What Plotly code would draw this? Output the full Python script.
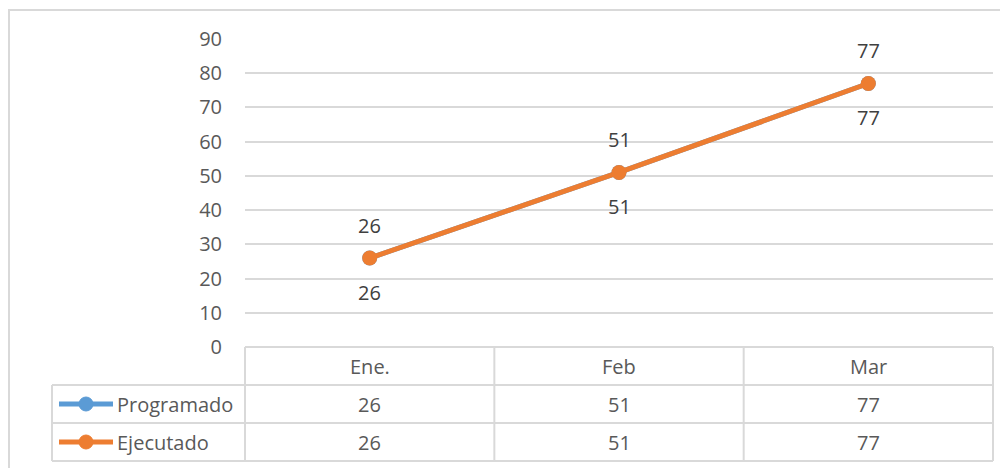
import plotly.graph_objects as go

# datos
meses = ["Ene.", "Feb", "Mar"]
programado = [26, 51, 77]
ejecutado = [26, 51, 77]
series = ["Programado", "Ejecutado"]
y_ticks = [0, 10, 20, 30, 40, 50, 60, 70, 80, 90]

azul = "#5B9BD5"
naranja = "#ED7D31"
gris_txt = "#595959"
gris_linea = "#D9D9D9"
fuente = "'Open Sans', Lato, sans-serif"
tam = 20

# la pagina tiene 8px de margen en el body
O = 8
W, H = 1000, 460
L, R, T = 245 - O, 15, 39 - O
B = H - (347 - O)
pw, ph = W - L - R, H - T - B


def px_x(x):
    return (x - O - L) / pw


def px_y(y):
    return (H - B - (y - O)) / ph


fig = go.Figure()
fig.add_trace(go.Scatter(x=meses, y=programado, name="Programado", mode="lines+markers",
                         line=dict(color=azul, width=5), marker=dict(size=15, color=azul),
                         cliponaxis=False))
fig.add_trace(go.Scatter(x=meses, y=ejecutado, name="Ejecutado", mode="lines+markers",
                         line=dict(color=naranja, width=5), marker=dict(size=15, color=naranja),
                         cliponaxis=False))

anns = []
# etiquetas de datos (arriba programado, abajo ejecutado)
for m, p, e in zip(meses, programado, ejecutado):
    anns.append(dict(x=m, y=p, xref="x", yref="y", text=str(p), showarrow=False, yshift=33,
                     yanchor="middle", font=dict(size=tam, color="#404040", family=fuente)))
    anns.append(dict(x=m, y=e, xref="x", yref="y", text=str(e), showarrow=False, yshift=-34,
                     yanchor="middle", font=dict(size=tam, color="#404040", family=fuente)))

# tabla de datos
filas_y = [px_y(404), px_y(442)]
for m in meses:
    anns.append(dict(x=m, y=px_y(366), xref="x", yref="paper", text=m, showarrow=False,
                     xanchor="center", yanchor="middle",
                     font=dict(size=tam, color=gris_txt, family=fuente)))
for fy, vals in zip(filas_y, [programado, ejecutado]):
    for m, v in zip(meses, vals):
        anns.append(dict(x=m, y=fy, xref="x", yref="paper", text=str(v), showarrow=False,
                         xanchor="center", yanchor="middle",
                         font=dict(size=tam, color=gris_txt, family=fuente)))
for fy, nom in zip(filas_y, series):
    anns.append(dict(x=px_x(115), y=fy, xref="paper", yref="paper", text=nom, showarrow=False,
                     xanchor="left", yanchor="middle",
                     font=dict(size=tam, color=gris_txt, family=fuente)))

shapes = []
lw = dict(color=gris_linea, width=2)
# borde exterior
shapes.append(dict(type="rect", xref="paper", yref="paper", x0=px_x(9), x1=px_x(1015),
                   y0=px_y(480), y1=px_y(10), line=lw, layer="below"))
# lineas horizontales de la tabla
for yy in [385, 423, 461]:
    shapes.append(dict(type="line", xref="paper", yref="paper", x0=px_x(52), x1=1,
                       y0=px_y(yy), y1=px_y(yy), line=lw))
# verticales
shapes.append(dict(type="line", xref="paper", yref="paper", x0=px_x(52), x1=px_x(52),
                   y0=px_y(385), y1=px_y(461), line=lw))
for i in range(4):
    xx = i / 3
    shapes.append(dict(type="line", xref="paper", yref="paper", x0=xx, x1=xx,
                       y0=0, y1=px_y(461), line=lw))
# claves de leyenda
for fy, col in zip(filas_y, [azul, naranja]):
    shapes.append(dict(type="line", xref="paper", yref="paper", x0=px_x(59), x1=px_x(113),
                       y0=fy, y1=fy, line=dict(color=col, width=5)))
    shapes.append(dict(type="circle", xref="paper", yref="paper", x0=px_x(79), x1=px_x(93),
                       y0=fy - 7 / ph, y1=fy + 7 / ph, fillcolor=col, line=dict(color=col, width=1)))

fig.update_layout(
    width=W, height=H,
    margin=dict(l=L, r=R, t=T, b=B),
    paper_bgcolor="white", plot_bgcolor="white",
    showlegend=False,
    annotations=anns, shapes=shapes,
    font=dict(family=fuente, color=gris_txt, size=tam),
)
fig.update_xaxes(type="category", range=[-0.5, 2.5], showticklabels=False,
                 showgrid=False, zeroline=False, showline=False)
fig.update_yaxes(range=[0, 90], tickvals=y_ticks, showgrid=True, gridcolor=gris_linea,
                 gridwidth=2, zeroline=True, zerolinecolor=gris_linea, zerolinewidth=2,
                 showline=False, ticklabelstandoff=22,
                 tickfont=dict(size=tam, color=gris_txt, family=fuente))

fig.write_html("out.html")
